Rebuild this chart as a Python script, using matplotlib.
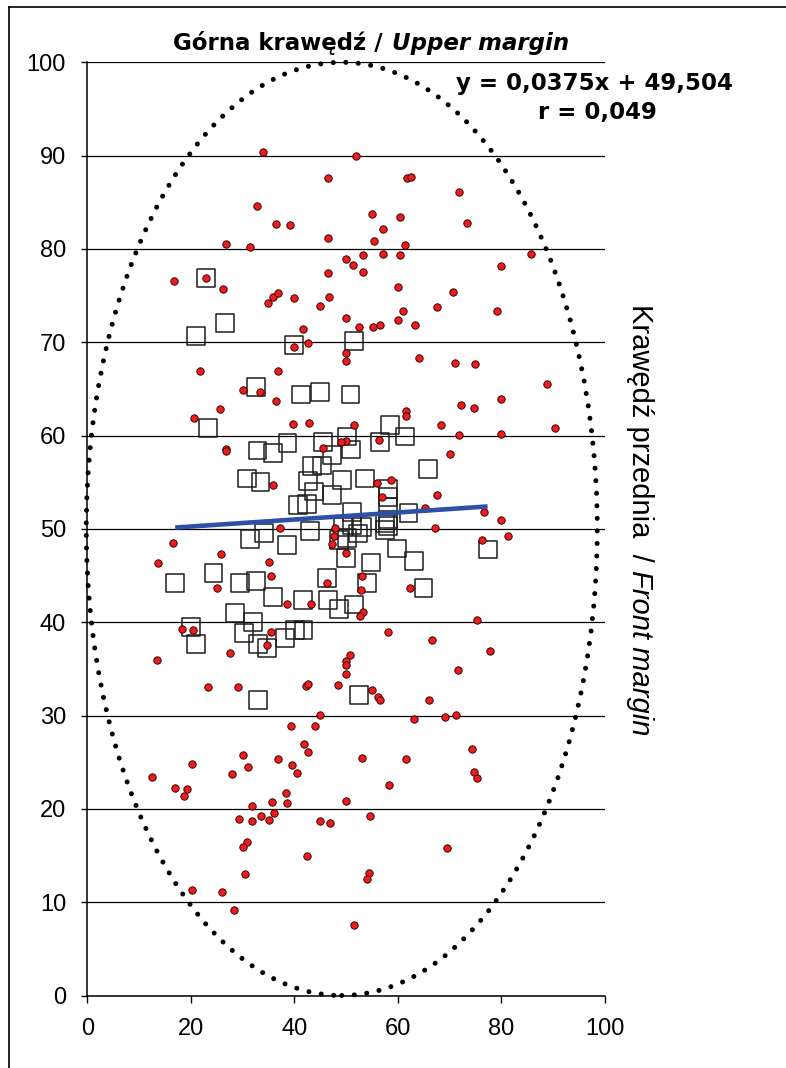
import matplotlib
matplotlib.use("Agg")
import matplotlib.pyplot as plt
from matplotlib.patches import Ellipse
from matplotlib.lines import Line2D

plt.rcParams['font.family'] = ['Liberation Sans', 'DejaVu Sans']

# ---------------- data ----------------
red_x = [34.0, 46.6, 32.9, 36.5, 39.1, 46.6, 26.8, 31.5, 46.6, 16.8, 23.0, 26.2, 35.9, 36.9, 40.0,
         52.0, 61.9, 62.6, 71.8, 55.0, 60.4, 73.4, 57.1, 55.5, 61.5, 85.8, 53.4, 57.1, 60.4, 50.0, 51.3, 80.0, 53.4, 60.0, 70.8, 46.8,
         35.0, 45.0, 41.8, 40.0, 42.6, 21.7, 36.8, 33.4, 30.2, 36.5, 25.7, 20.6, 39.7, 42.9, 26.8, 26.8, 45.5, 35.9, 37.3,
         67.6, 79.2, 50.0, 61.0, 60.0, 52.6, 55.3, 56.6, 63.4, 50.0, 50.0, 64.2, 71.1, 75.0, 88.9, 80.0, 72.3, 74.7, 61.6, 61.6,
         90.5, 51.6, 68.4, 50.0, 49.0, 56.4, 71.8, 80.0, 70.2, 56.0, 58.7, 56.9, 67.6, 65.2, 76.7, 80.0, 67.3, 47.9, 81.3, 76.3,
         16.5, 13.7, 25.8, 35.1, 25.1, 35.6, 38.7, 43.3, 46.3, 18.4, 20.4, 13.5, 35.5, 34.7, 27.5, 23.4, 29.2, 42.3, 42.6, 44.9,
         39.3, 44.0, 41.9, 42.6, 30.2, 31.1, 36.8, 20.3, 39.5, 40.5, 27.9, 12.5,
         47.7, 47.4, 50.0, 53.1, 52.9, 62.4, 53.4, 52.7, 75.3, 58.2, 66.6, 77.8, 50.7, 50.0, 50.0, 50.0, 71.6, 48.4, 55.0, 56.2,
         56.6, 66.0, 63.1, 69.1, 71.3, 74.4, 53.2, 61.6, 74.8, 75.3,
         17.0, 19.3, 18.7, 38.4, 38.6, 31.9, 35.8, 36.1, 29.4, 31.9, 33.5, 35.1, 45.0, 46.9, 30.8, 30.1, 42.4, 30.4, 20.3, 26.0, 28.4,
         58.4, 50.0, 54.7, 69.5, 54.5, 54.0, 51.5]
red_y = [90.4, 87.6, 84.6, 82.7, 82.6, 81.2, 80.5, 80.2, 77.4, 76.6, 76.9, 75.7, 74.9, 75.3, 74.7,
         90.0, 87.6, 87.7, 86.1, 83.7, 83.4, 82.8, 82.1, 80.9, 80.4, 79.5, 79.4, 79.5, 79.4, 78.9, 78.3, 78.2, 77.5, 75.9, 75.4, 74.9,
         74.2, 73.9, 71.4, 69.45, 69.9, 66.9, 66.9, 64.7, 64.9, 63.7, 62.9, 61.9, 61.2, 61.4, 58.6, 58.3, 58.7, 54.7, 50.05,
         73.8, 73.4, 72.6, 73.4, 72.4, 71.6, 71.6, 71.9, 71.9, 68.9, 68.0, 68.3, 67.8, 67.7, 65.5, 63.9, 63.3, 63.0, 62.6, 62.1,
         60.8, 61.1, 61.1, 59.4, 59.3, 59.5, 60.1, 60.2, 58.0, 54.9, 55.2, 53.4, 53.6, 52.2, 51.8, 51.0, 50.05, 50.05, 49.2, 48.8,
         48.5, 46.3, 47.3, 46.4, 43.7, 44.9, 41.9, 41.9, 44.2, 39.3, 39.2, 35.9, 38.9, 37.6, 36.7, 33.1, 33.1, 33.2, 33.4, 30.05,
         28.9, 28.9, 27.0, 26.1, 25.8, 24.5, 25.3, 24.8, 24.7, 23.8, 23.7, 23.4,
         49.2, 48.4, 47.4, 44.9, 43.4, 43.7, 41.1, 40.7, 40.2, 38.9, 38.1, 36.9, 36.5, 35.8, 35.4, 34.4, 34.9, 33.3, 32.7, 32.0,
         31.7, 31.7, 29.6, 29.8, 30.05, 26.4, 25.5, 25.3, 23.9, 23.3,
         22.2, 22.1, 21.4, 21.7, 20.6, 20.3, 20.7, 19.6, 18.9, 18.7, 19.2, 18.8, 18.7, 18.5, 16.5, 15.9, 14.9, 13.0, 11.3, 11.1, 9.2,
         22.6, 20.8, 19.2, 15.8, 13.1, 12.45, 7.55]

sq_x = [23.0, 21.0, 26.7, 40.0, 51.6, 32.6, 41.3, 45.0, 50.9, 23.3, 32.9, 35.9, 38.7, 45.6, 50.2, 51.0, 56.6, 58.5, 61.5,
        30.9, 33.5, 65.8, 47.3, 45.4, 43.4, 49.2, 53.7, 42.7, 43.9, 47.3, 42.4, 40.8, 51.1, 43.1, 49.5, 58.2, 58.2, 58.2, 58.2,
        62.1, 57.6, 51.1, 53.1, 58.2,
        31.5, 34.2, 38.6, 24.4, 17.0, 29.5, 32.6, 35.9, 41.7, 46.3, 46.6, 28.6, 32.1, 30.3, 20.1, 21.0, 33.0, 34.7, 38.2, 40.2,
        41.8, 33.0,
        48.6, 50.2, 52.4, 57.6, 59.8, 63.2, 77.4, 54.8, 50.0, 54.0, 65.0, 48.6, 51.5, 52.6]
sq_y = [76.9, 70.7, 72.1, 69.7, 70.1, 65.2, 64.4, 64.7, 64.4, 60.8, 58.4, 58.1, 59.2, 59.3, 59.9, 58.5, 59.3, 61.1, 59.9,
        55.4, 55.0, 56.4, 57.9, 56.8, 56.7, 55.2, 55.4, 55.1, 54.0, 53.6, 52.7, 52.6, 51.8, 49.8, 50.2, 54.3, 53.4, 52.4, 51.0,
        51.7, 50.6, 50.4, 50.2, 50.3,
        48.9, 49.6, 48.3, 45.3, 44.2, 44.2, 44.4, 42.7, 42.4, 44.7, 42.4, 41.0, 40.0, 38.8, 39.5, 37.7, 37.7, 37.2, 38.3, 39.2,
        39.2, 31.7,
        48.8, 49.0, 49.5, 49.9, 47.9, 46.6, 47.8, 46.4, 46.9, 44.2, 43.7, 41.4, 41.9, 32.2]

trend_slope = 0.0375
trend_intercept = 49.504
r_value = 0.049

ellipse_center = (49.2, 50.0)
ellipse_width = 98.8
ellipse_height = 100.0

x_ticks = [0, 20, 40, 60, 80, 100]
y_ticks = [0, 10, 20, 30, 40, 50, 60, 70, 80, 90, 100]

title_main = "Górna krawędź /"
title_en = "Upper margin"
side_main = "Krawędź przednia  /"
side_en = "Front margin"

# ---------------- figure ----------------
W, H = 786, 1068
fig = plt.figure(figsize=(W / 100, H / 100), dpi=100)
fig.patch.set_facecolor('white')

def fx(px):
    return px / W

def fy(py):
    return 1 - py / H

x0, x1, ytop, ybot = 87.3, 604.5, 62.3, 995.5
ax = fig.add_axes([fx(x0), fy(ybot), (x1 - x0) / W, (ybot - ytop) / H])
ax.set_xlim(0, 100)
ax.set_ylim(0, 100)
ax.set_xticks(x_ticks)
ax.set_yticks(y_ticks)
ax.yaxis.grid(True, color='black', linewidth=0.9)
ax.set_axisbelow(True)
for s in ['top', 'right']:
    ax.spines[s].set_visible(False)
for s in ['left', 'bottom']:
    ax.spines[s].set_color('black')
    ax.spines[s].set_linewidth(1.1)
ax.tick_params(axis='x', direction='out', length=5, width=1, pad=11, labelsize=17)
ax.tick_params(axis='y', direction='out', length=4.3, width=1, pad=11, labelsize=17)

# squares
ax.scatter(sq_x, sq_y, s=165, marker='s', facecolors='none', edgecolors='#1e1e1e',
           linewidths=1.1, zorder=3)
# red dots
ax.scatter(red_x, red_y, s=28, marker='o', facecolors='#ee1c1c', edgecolors='#3a0000',
           linewidths=0.7, zorder=4)
# trend line (over the squares' x-range)
tx = [min(sq_x), max(sq_x)]
ty = [trend_slope * v + trend_intercept for v in tx]
ax.plot(tx, ty, color='#2e4fa6', linewidth=3.3, solid_capstyle='butt', zorder=5)

# dotted ellipse
ell = Ellipse(ellipse_center, ellipse_width, ellipse_height, fill=False, edgecolor='black',
              linewidth=3.6, linestyle=(0, (0.01, 2.5)), capstyle='round', clip_on=False, zorder=6)
ax.add_patch(ell)

# equation and r
eq = f"y = {trend_slope:.4f}x + {trend_intercept:.3f}".replace('.', ',')
rt = f"r = {r_value:.3f}".replace('.', ',')
fig.text(fx(594), fy(90), eq, ha='center', va='baseline', fontsize=16.5,
         fontweight='bold', family='DejaVu Sans')
fig.text(fx(597), fy(119), rt, ha='center', va='baseline', fontsize=16.5,
         fontweight='bold', family='DejaVu Sans')

# title
fig.text(fx(383), fy(50), title_main, ha='right', va='baseline', fontsize=16.5,
         fontweight='bold', family='DejaVu Sans')
fig.text(fx(392), fy(50), title_en, ha='left', va='baseline', fontsize=16.5,
         fontweight='bold', style='italic', family='DejaVu Sans')

# side label (rotated)
fig.text(fx(640), fy(562), side_main, rotation=-90, rotation_mode='anchor', ha='right',
         va='center', fontsize=21)
fig.text(fx(640), fy(570), side_en, rotation=-90, rotation_mode='anchor', ha='left',
         va='center', fontsize=21, style='italic')

# outer frame (left and top edges)
fig.add_artist(Line2D([fx(9), fx(9)], [fy(7), 0], transform=fig.transFigure,
                      color='black', linewidth=1.2))
fig.add_artist(Line2D([fx(9), 1], [fy(7), fy(7)], transform=fig.transFigure,
                      color='black', linewidth=1.2))

fig.savefig('out.png', dpi=100)
